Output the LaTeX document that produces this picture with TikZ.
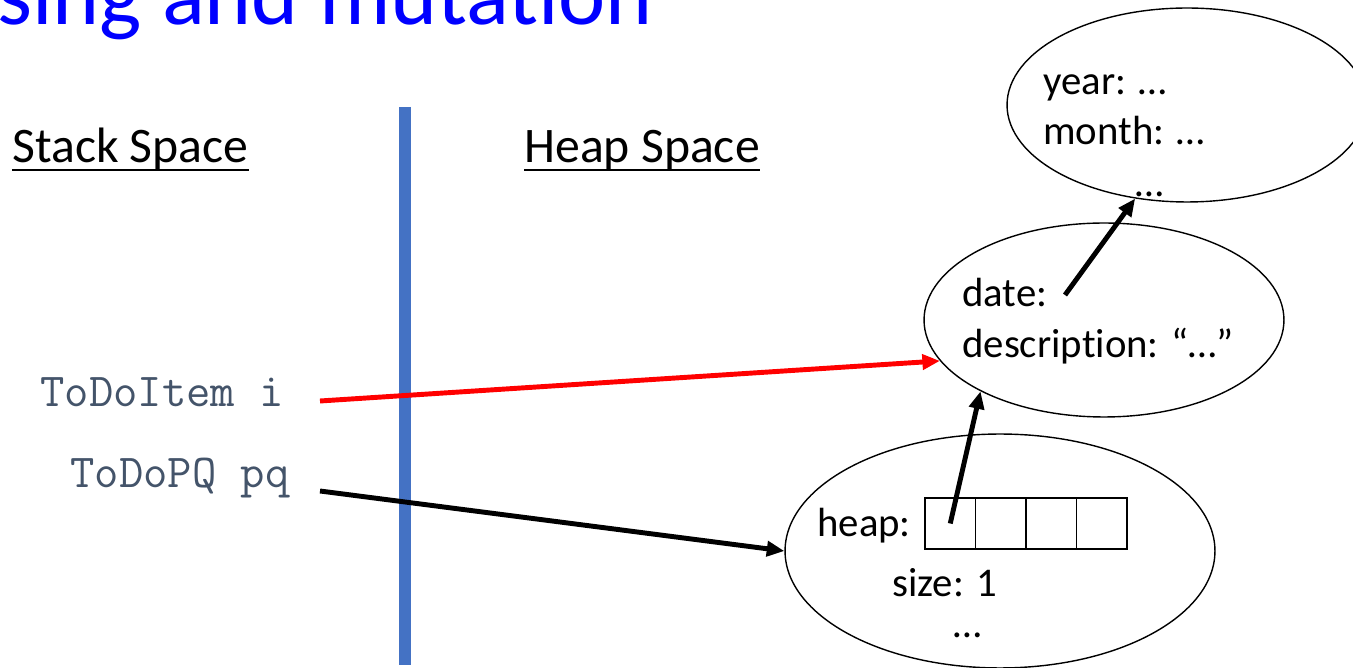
\documentclass[tikz,border=0pt]{standalone}
\usepackage{fontspec}
\setmainfont{Carlito}[Ligatures=CommonOff]
\usetikzlibrary{arrows.meta, shapes.geometric}
\definecolor{cblue}{HTML}{4472C4}
\definecolor{ctitle}{HTML}{0000FF}
\definecolor{ccode}{HTML}{44546A}
\definecolor{cred}{HTML}{FF0000}
\tikzset{
  every picture/.style={x=0.02cm, y=-0.02cm},
  obj/.style={draw, ellipse, line width=0.8pt, inner sep=0pt},
  field/.style={anchor=base west, inner sep=0pt, font=\fontsize{23.2}{28}\selectfont},
  var/.style={anchor=base west, inner sep=0pt, text=ccode, font=\ttfamily\fontsize{26.9}{32}\selectfont},
  head/.style={anchor=base west, inner sep=0pt, font=\fontsize{28.3}{34}\selectfont},
  uline/.style={line width=1.2pt},
  cell/.style={draw, line width=0.8pt, minimum width=1.01cm, minimum height=1.02cm, inner sep=0pt},
  ptr/.style={-{Triangle[length=10pt, width=8.5pt]}, line width=2.8pt},
}

\begin{document}
\begin{tikzpicture}
  \useasboundingbox (0,0) rectangle (1353,668);
  % title, cut at the top
  \node[anchor=base west, inner sep=0pt, text=ctitle, font=\fontsize{50.9}{60}\selectfont] (title) at (-3,25) {sing and mutation};
  % headings
  \node[head] (stack) at (12,163) {Stack Space};
  \node[head] (heap) at (524,163) {Heap Space};
  \draw[uline] ([yshift=-4pt]stack.base west) -- ([yshift=-4pt]stack.base east);
  \draw[uline] ([yshift=-4pt]heap.base west) -- ([yshift=-4pt]heap.base east);
  \draw[cblue, line width=6.8pt] (405,107) -- (405,665);
  % stack variables
  \node[var] (ivar) at (40,407) {ToDoItem i};
  \node[var] (pqvar) at (70,488) {ToDoPQ pq};
  \coordinate (iref) at (320,401);
  \coordinate (pqref) at (320,491);
  % heap objects
  \node[obj, minimum width=8.6cm, minimum height=4.68cm] (pqobj) at (1000,551) {};
  \node[obj, minimum width=7.2cm, minimum height=3.88cm] (itemobj) at (1104,320) {};
  \node[obj, minimum width=7.2cm, minimum height=3.88cm] (dateobj) at (1187,105) {};
  \node[field] (heaplbl) at (817,537) {heap:};
  \foreach \i in {1,...,4}
    \node[cell] (c\i) at ({925+25.25+(\i-1)*50.5},523.5) {};
  \node[field] (size) at (892,597) {size: 1};
  \node[field, anchor=base] (pqmore) at (968,638) {…};
  \node[field] (date) at (962,307) {date:};
  \node[field] (descr) at (962,358) {description: “…”};
  \coordinate (dateref) at (1065,295);
  \node[field] (year) at (1043,95) {year: …};
  \node[field] (month) at (1043,145) {month: …};
  \node[field, anchor=base] (datemore) at (1150,197) {…};
  % pointers
  \draw[ptr, draw=cred, fill=cred] (iref) -- (itemobj.194);
  \draw[ptr] (pqref) -- (pqobj.180);
  \draw[ptr] (c1.center) -- (itemobj.210);
  \draw[ptr] (dateref) -- (dateobj.241);
\end{tikzpicture}
\end{document}
